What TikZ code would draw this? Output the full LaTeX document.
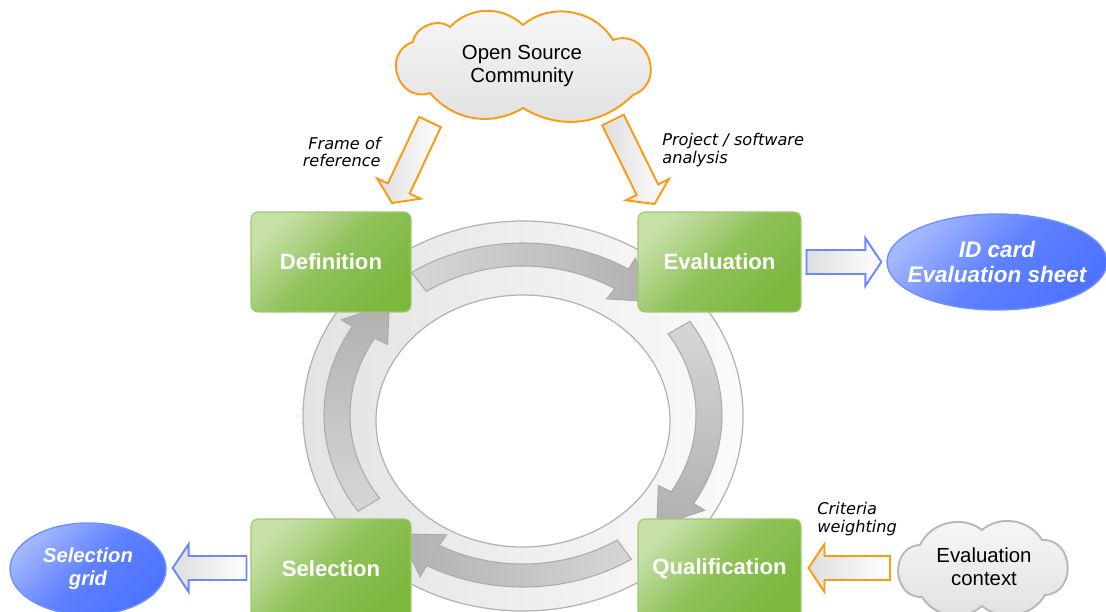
\documentclass[tikz,border=0pt]{standalone}
\usepackage{fontspec}
\setmainfont{Liberation Sans}
\newfontfamily\dejavu{DejaVu Sans}
\definecolor{orange1}{RGB}{250, 155, 20}
\definecolor{green1}{RGB}{124, 183, 62}
\definecolor{green2}{RGB}{198, 224, 168}
\definecolor{blue1}{RGB}{77, 115, 255}
\definecolor{blue2}{RGB}{165, 184, 255}
\usetikzlibrary{shapes.geometric, calc}

\newcommand{\cyclearrow}[3]{%
  \path[flow=#3]
    ($(ring)+(#1:199 and 172)$) arc[start angle=#1, end angle=#2, x radius=199, y radius=172]
    -- ($(ring)+(#2:212 and 185)$)
    -- ($(ring)+({#2+13}:186 and 160)$)
    -- ($(ring)+(#2:158 and 137)$)
    -- ($(ring)+(#2:173 and 149)$)
    arc[start angle=#2, end angle=#1, x radius=173, y radius=149] -- cycle;}

\begin{document}
\begin{tikzpicture}[x=0.02cm, y=-0.02cm,
  phase/.style={draw=green1!75!white, line width=0.6pt, rounded corners=4pt,
    left color=green2, right color=green1, middle color=green1!75!green2, shading angle=45,
    minimum width=3.2cm, minimum height=2cm, inner sep=0, text=white,
    font=\fontsize{12.6}{15}\selectfont\bfseries},
  result/.style={ellipse, draw=blue1!80!white, line width=0.8pt,
    left color=blue2, right color=blue1, middle color=blue1!80!blue2, shading angle=45,
    inner ysep=0, inner xsep=-0.3cm,
    text=white, align=center, font=\fontsize{12.8}{14.2}\selectfont\bfseries\itshape},
  puff/.style={draw=#1, line width=1.1pt, top color=black!3, bottom color=black!12},
  source/.style={inner sep=0, align=center, font=\fontsize{11.6}{13}\selectfont},
  note/.style={inner sep=0, font=\dejavu\itshape\fontsize{9.2}{10.2}\selectfont},
  flow/.style={draw=black!33, line width=0.6pt, left color=black!16, right color=black!31, shading angle=#1},
  fatarrow/.style={draw=#1, line width=1.1pt, left color=black!13, right color=white, shading angle=90,
    to path={($(\tikztostart)!0.24cm!90:(\tikztotarget)$)
      -- ($(\tikztotarget)!0.32cm!(\tikztostart)!0.24cm!-90:(\tikztostart)$)
      -- ($(\tikztotarget)!0.32cm!(\tikztostart)!0.48cm!-90:(\tikztostart)$)
      -- (\tikztotarget)
      -- ($(\tikztotarget)!0.32cm!(\tikztostart)!0.48cm!90:(\tikztostart)$)
      -- ($(\tikztotarget)!0.32cm!(\tikztostart)!0.24cm!90:(\tikztostart)$)
      -- ($(\tikztostart)!0.24cm!-90:(\tikztotarget)$) -- cycle}}]

  \useasboundingbox (0,0) rectangle (1106,612);
  \clip (0,0) rectangle (1106,612);

  \coordinate (ring) at (523,415);
  \path[draw=black!30, line width=0.7pt, left color=black!11, right color=black!2, shading angle=90, even odd rule]
    (523,416) ellipse [x radius=220, y radius=195] (523,421) ellipse [x radius=147, y radius=126];

  \cyclearrow{-124}{-58}{90}
  \cyclearrow{-33}{31}{0}
  \cyclearrow{57}{119}{-90}
  \cyclearrow{146}{211}{180}

  \node[phase] (defin) at (331,262) {Definition};
  \node[phase, minimum width=3.26cm] (evalu) at (719.5,262) {Evaluation};
  \node[phase] (selec) at (331,569) {Selection};
  \node[phase, minimum width=3.26cm] (qualif) at (719.5,569) {Qualification};

  \path[puff=orange1] (523,25) to[bend left=50] (613,40) to[bend left=90, looseness=1.6] (633,95) to[bend left=38]
    (523,108) to[bend left=40] (430,93) to[bend left=90, looseness=1.6] (413,42) to[bend left=60] (450,27)
    to[bend left=45] (523,25) -- cycle;
  \node[source] (oss) at (522,66) {Open Source\\Community};

  \path[puff=black!28] (982,530) to[bend left=50] (1042,540) to[bend left=90, looseness=1.5] (1045,595) to[bend left=50]
    (982,606) to[bend left=50] (922,597) to[bend left=90, looseness=1.5] (920,545) to[bend left=52] (982,530) -- cycle;
  \node[source] (evctx) at (984,567) {Evaluation\\context};

  \node[result, minimum width=4.4cm, minimum height=1.92cm] (idcard) at (997,262) {ID card\\Evaluation sheet};
  \node[result, minimum width=3.12cm, minimum height=1.84cm, font=\fontsize{11.5}{13}\selectfont\bfseries\itshape] (selgrid) at (88,569) {Selection\\grid};

  \draw[fatarrow=orange1] ([shift={(-92,56)}]oss.center) to ([shift={(61,-59)}]defin.center);
  \draw[fatarrow=orange1] ([shift={(91,54)}]oss.center) to ([shift={(-65,-58)}]evalu.center);
  \draw[fatarrow=blue1!85!white] ([shift={(5,0)}]evalu.east) to ([shift={(-5,0)}]idcard.west);
  \draw[fatarrow=blue1!85!white] ([shift={(-4,-1)}]selec.west) to ([shift={(6,-1)}]selgrid.east);
  \draw[fatarrow=orange1] ([shift={(-94,1)}]evctx.center) to ([shift={(7,-1)}]qualif.east);

  \node[note, anchor=east, align=right] (frame) at (381,152) {Frame of\\reference};
  \node[note, anchor=west, align=left] (project) at (662,150) {Project / software\\analysis};
  \node[note, anchor=west, align=left] (weight) at (817,519) {Criteria\\weighting};
\end{tikzpicture}
\end{document}
